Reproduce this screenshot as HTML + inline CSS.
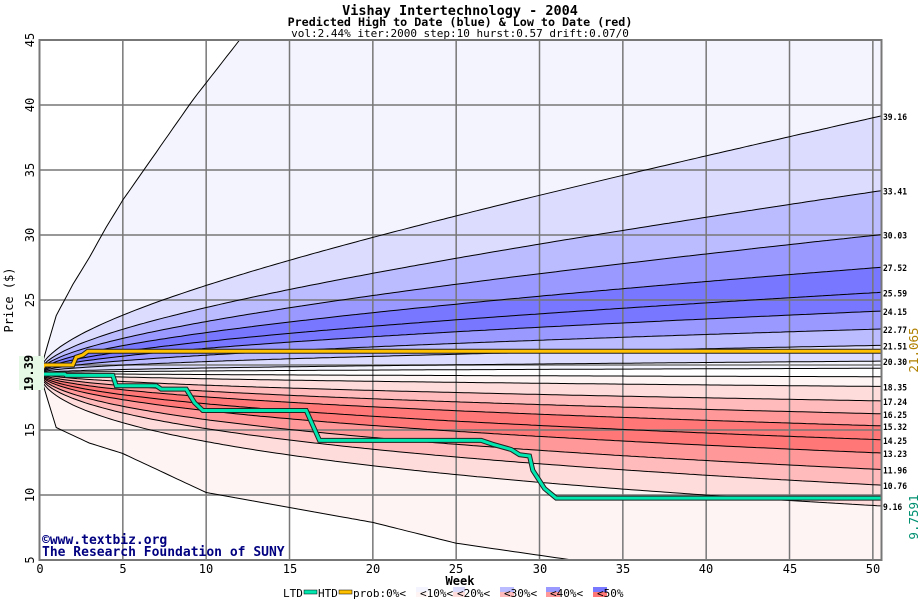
<!DOCTYPE html>
<html><head><meta charset="utf-8"><style>
body{margin:0;background:#fff;width:920px;height:600px;overflow:hidden}
svg{display:block;font-family:"DejaVu Sans Mono","Liberation Mono",monospace}
</style></head><body>
<svg id="s" width="920" height="600" xmlns="http://www.w3.org/2000/svg">
<defs><clipPath id="c2"><rect x="39.5" y="40" width="842" height="520"/></clipPath></defs>
<g id="bands" clip-path="url(#c2)"></g>
<g id="grid" stroke="#777" stroke-width="1.5"></g>
<g id="lines" fill="none" stroke="#000" stroke-width="1" clip-path="url(#c2)"></g>
<g id="td"></g>
<rect x="39.5" y="40" width="842" height="520" fill="none" stroke="#777" stroke-width="2"/>
<text x="460" y="15" font-size="13.5" font-weight="bold" text-anchor="middle">Vishay Intertechnology - 2004</text>
<text x="460" y="26" font-size="11.7" font-weight="bold" text-anchor="middle">Predicted High to Date (blue) &amp;  Low to Date (red)</text>
<text x="460" y="37" font-size="11" text-anchor="middle">vol:2.44% iter:2000 step:10 hurst:0.57 drift:0.07/0</text>
<g font-size="12" text-anchor="middle">
<text transform="translate(34,560) rotate(-90)">5</text>
<text transform="translate(34,495) rotate(-90)">10</text>
<text transform="translate(34,430) rotate(-90)">15</text>
<text transform="translate(34,300) rotate(-90)">25</text>
<text transform="translate(34,235) rotate(-90)">30</text>
<text transform="translate(34,170) rotate(-90)">35</text>
<text transform="translate(34,105) rotate(-90)">40</text>
<text transform="translate(34,40) rotate(-90)">45</text>
<text transform="translate(13,300) rotate(-90)">Price ($)</text>
</g>
<rect x="19" y="356" width="25" height="34" fill="#e6f8e6"/>
<text transform="translate(33,373) rotate(-90)" font-size="12" font-weight="bold" text-anchor="middle">19.39</text>
<g font-size="12" text-anchor="middle">
<text x="40" y="573">0</text><text x="123" y="573">5</text><text x="206" y="573">10</text><text x="290" y="573">15</text><text x="373" y="573">20</text><text x="456" y="573">25</text><text x="540" y="573">30</text><text x="623" y="573">35</text><text x="706" y="573">40</text><text x="790" y="573">45</text><text x="873" y="573">50</text>
<text x="460" y="585" font-weight="bold">Week</text>
</g>
<g font-size="9" font-weight="bold" id="rl"></g>
<text transform="translate(918,350) rotate(-90)" font-size="12.5" fill="#b08000" text-anchor="middle">21.065</text>
<text transform="translate(918,517) rotate(-90)" font-size="12.5" fill="#009070" text-anchor="middle">9.7591</text>
<text x="42" y="544" font-size="13" font-weight="bold" fill="#000080">©www.textbiz.org</text>
<text x="42" y="556" font-size="13" font-weight="bold" fill="#000080">The Research Foundation of SUNY</text>
<g font-size="11">
<text x="283" y="597">LTD</text><rect x="304" y="590" width="13" height="4" fill="#00e8b0" stroke="#000" stroke-width=".5"/>
<text x="318" y="597">HTD</text><rect x="339" y="590" width="13" height="4" fill="#ffc000" stroke="#000" stroke-width=".5"/>
<text x="353" y="597">prob:0%&lt;</text>
<rect x="416" y="587" width="12" height="5" fill="#f4f4ff"/><rect x="416" y="592" width="12" height="5" fill="#fff4f4"/>
<text x="420" y="597">&lt;10%&lt;</text>
<rect x="453" y="587" width="12" height="5" fill="#dcdcff"/><rect x="453" y="592" width="12" height="5" fill="#ffdcdc"/>
<text x="457" y="597">&lt;20%&lt;</text>
<rect x="500" y="587" width="14" height="5" fill="#bbbbff"/><rect x="500" y="592" width="14" height="5" fill="#ffbbbb"/>
<text x="504" y="597">&lt;30%&lt;</text>
<rect x="546" y="587" width="14" height="5" fill="#9999ff"/><rect x="546" y="592" width="14" height="5" fill="#ff9999"/>
<text x="550" y="597">&lt;40%&lt;</text>
<rect x="593" y="587" width="14" height="5" fill="#7777ff"/><rect x="593" y="592" width="14" height="5" fill="#ff7777"/>
<text x="597" y="597">&lt;50%</text>
</g>
</svg>
<script>
var NS="http://www.w3.org/2000/svg";
function X(w){return 39.5+w*16.667}
function Y(p){return 40+(45-p)*13}
function el(g,t,a){var e=document.createElementNS(NS,t);for(var k in a)e.setAttribute(k,a[k]);document.getElementById(g).appendChild(e);return e}
var W=50.5,P0=19.39;
function curve(end){var L=Math.log(end/P0),pts=[];for(var i=0;i<=202;i++){var w=i*0.25;pts.push([w,P0*Math.exp(L*Math.pow(w/W,0.53))]);}return pts}
function pw(knots,sign){var pts=[];for(var i=0;i<=202;i++){var w=i*0.25,d;
 for(var j=1;j<knots.length;j++){if(w<=knots[j][0]||j==knots.length-1){var a=knots[j-1],b=knots[j];d=a[1]+(b[1]-a[1])*(w-a[0])/(b[0]-a[0]);break;}}
 pts.push([w,P0+sign*d]);}return pts}
var up=pw([[0,0],[1,4.4],[2,6.8],[3,8.9],[4,11.2],[5,13.3],[9.2,21],[12,25.6],[14,29]],1);
var dn=pw([[0,0],[1,4.2],[3,5.4],[5,6.2],[10,9.2],[20,11.5],[25,13.1],[32,14.4],[51,17.5]],-1);
var ends=[39.16,33.41,30.03,27.52,25.59,24.15,22.77,21.51,20.30,19.75];
var rends=[19.1,18.35,17.24,16.25,15.32,14.25,13.23,11.96,10.76,9.16];
var C=[up].concat(ends.map(curve));
var R=rends.map(curve).concat([dn]);
var bc=["#f4f4ff","#dcdcff","#bbbbff","#9999ff","#7777ff","#7777ff","#9999ff","#bbbbff","#dcdcff","#f4f4ff"];
var rc=["#fff4f4","#ffdcdc","#ffbbbb","#ff9999","#ff7777","#ff7777","#ff9999","#ffbbbb","#ffdcdc","#fff4f4"];
function ps(p){return p.map(function(q){return X(q[0]).toFixed(1)+","+Y(q[1]).toFixed(1)}).join(" ")}
function band(a,b,c){el("bands","polygon",{points:ps(a)+" "+ps(b.slice().reverse()),fill:c})}
for(var i=0;i<10;i++)band(C[i],C[i+1],bc[i]);
for(var i=0;i<10;i++)band(R[i],R[i+1],rc[i]);
for(var w=5;w<=50;w+=5)el("grid","line",{x1:X(w),x2:X(w),y1:40,y2:560});
for(var p=10;p<45;p+=5)el("grid","line",{x1:39.5,x2:881.5,y1:Y(p),y2:Y(p)});
C.concat(R).forEach(function(c){el("lines","polyline",{points:ps(c)})});
var labs=["39.16","33.41","30.03","27.52","25.59","24.15","22.77","21.51","20.30","18.35","17.24","16.25","15.32","14.25","13.23","11.96","10.76","9.16"];
labs.forEach(function(v){var t=el("rl","text",{x:883,y:Y(+v)+4,textLength:v.length*4.8,lengthAdjust:"spacingAndGlyphs"});t.textContent=v;});
var htd=[[0,19.39],[0.3,20.0],[2,20.0],[2.2,20.6],[2.6,20.77],[2.9,21.065],[50.5,21.065]];
var ltd=[[0,19.39],[0.2,19.3],[1.5,19.3],[1.6,19.2],[4.4,19.2],[4.6,18.4],[7,18.4],[7.3,18.15],[8.8,18.15],[9.3,17.1],[9.8,16.5],[16,16.5],[16.8,14.2],[26.5,14.2],[27.2,13.9],[28.3,13.5],[28.8,13.1],[29.4,13.0],[29.6,11.9],[30.3,10.5],[31,9.76],[50.5,9.76]];
[[htd,"#ffc000"],[ltd,"#00e8b0"]].forEach(function(a){el("td","polyline",{points:ps(a[0]),fill:"none",stroke:"#222","stroke-width":5});el("td","polyline",{points:ps(a[0]),fill:"none",stroke:a[1],"stroke-width":3});});
</script>
</body></html>
